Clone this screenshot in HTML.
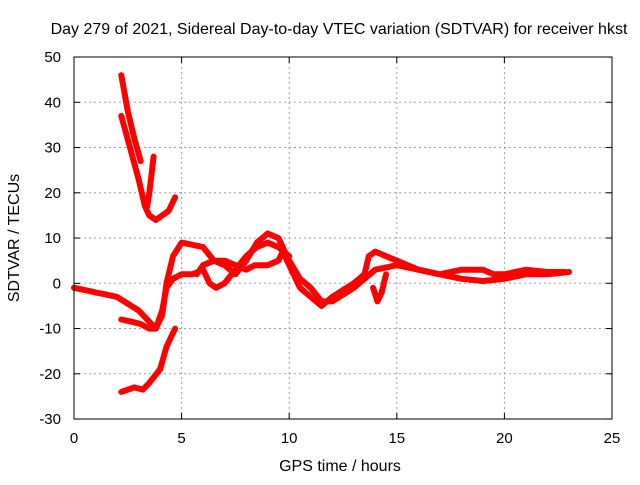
<!DOCTYPE html>
<html><head><meta charset="utf-8"><style>
body{margin:0;background:#fff}
svg text{font-family:"Liberation Sans",sans-serif;font-size:15px;fill:#000}
</style></head><body>
<svg id="chart" width="640" height="480">
<text x="339" y="34" text-anchor="middle" style="font-size:16px">Day 279 of 2021, Sidereal Day-to-day VTEC variation (SDTVAR) for receiver hkst</text>
<text x="340" y="471" text-anchor="middle" style="font-size:16px">GPS time / hours</text>
<text transform="translate(19,238) rotate(-90)" text-anchor="middle" style="font-size:16px">SDTVAR / TECUs</text>
<g id="grid"></g><g id="ticks"></g><g id="series"></g>
<rect x="74" y="57" width="538" height="362" fill="none" stroke="#000" stroke-width="1"/>
</svg>
<script>
const xTicks=[0,5,10,15,20,25];
const yTicks=[-30,-20,-10,0,10,20,30,40,50];
const s1x=[2.2,2.5,2.8,3.1];
const s1y=[46,38,32,27];
const s2x=[2.2,2.6,3.0,3.3,3.5,3.8,4.1,4.4,4.7];
const s2y=[37,30,23,17,15,14,15,16,19];
const s3x=[3.7,3.6,3.5,3.4];
const s3y=[28,24,20,17];
const s4x=[0,0.5,1,1.5,2,2.5,3,3.4,3.8,4.1,4.3,4.6,5,5.5,6,6.5,7,7.5,8,8.5,9,9.5,10,10.5,11,11.5,12,13,14,15,16,17,18,19,20,21,22,23];
const s4y=[-1,-1.5,-2,-2.5,-3,-4.5,-6,-8,-10,-7,0,6,9,8.5,8,5,4,2,5,9,11,10,5,1,-1,-4,-4,-1,3,4,3,2,1,0.5,1,2,2,2.5];
const s5x=[2.2,2.7,3.1,3.5,3.8,4.1,4.3,4.6,5,5.5,6,6.3,6.6,7,7.5,8,8.5,9,9.5,10];
const s5y=[-8,-8.5,-9,-10,-10,-6,-1,1,2,2,3,0,-1,0,3,6,8,9,8,6];
const s6x=[5.7,6,6.5,7,7.5,8,8.4,9,9.5,9.7,10,10.5,11,11.5,12,13,13.5,13.7,14,14.5,15,16,17,18,19,19.5,20,21,22,22.8];
const s6y=[2,4,5,5,4,3,4,4,5,7,4,-1,-3,-5,-3,0,2,6,7,6,5,3,2,3,3,2,2,3,2.5,2.5];
const s7x=[13.9,14.1,14.3,14.5];
const s7y=[-1,-4,-2,2];
const s8x=[2.2,2.8,3.2,3.5,4,4.3,4.7];
const s8y=[-24,-23,-23.5,-22,-19,-14,-10];
const X=h=>74+h*21.52, Y=v=>283.3-v*4.525;
const NS='http://www.w3.org/2000/svg';
const g=document.getElementById('grid'),t=document.getElementById('ticks'),s=document.getElementById('series');
function mk(tag,at,p){const e=document.createElementNS(NS,tag);for(const k in at)e.setAttribute(k,at[k]);p.appendChild(e);return e;}
xTicks.forEach(v=>{
 if(v>0&&v<25){const l=mk('line',{x1:X(v),x2:X(v),y1:57,y2:419,stroke:'#a0a0a0','stroke-dasharray':'2,3'},g);
 
 }
 mk('line',{x1:X(v),x2:X(v),y1:419,y2:413,stroke:'#000'},t);
 mk('line',{x1:X(v),x2:X(v),y1:57,y2:63,stroke:'#000'},t);
 const tx=mk('text',{x:X(v),y:443,'text-anchor':'middle'},t);tx.textContent=v;
 
 
});
yTicks.forEach(v=>{
 if(v>-30&&v<50){const l=mk('line',{x1:74,x2:612,y1:Y(v),y2:Y(v),stroke:'#a0a0a0','stroke-dasharray':'2,3'},g);
 
 }
 mk('line',{x1:74,x2:80,y1:Y(v),y2:Y(v),stroke:'#000'},t);
 mk('line',{x1:606,x2:612,y1:Y(v),y2:Y(v),stroke:'#000'},t);
 const tx=mk('text',{x:61,y:Y(v)+5,'text-anchor':'end'},t);tx.textContent=v;
 
 
});
[[s1x,s1y],[s2x,s2y],[s3x,s3y],[s4x,s4y],[s5x,s5y],[s6x,s6y],[s7x,s7y],[s8x,s8y]].forEach((p,i)=>{
 const pts=p[0].map((x,j)=>X(x).toFixed(1)+','+Y(p[1][j]).toFixed(1)).join(' ');
 const pl=mk('polyline',{points:pts,fill:'none',stroke:'#ff0000','stroke-width':6,'stroke-linejoin':'round','stroke-linecap':'round'},s);
 
 
});
</script>
</body></html>
